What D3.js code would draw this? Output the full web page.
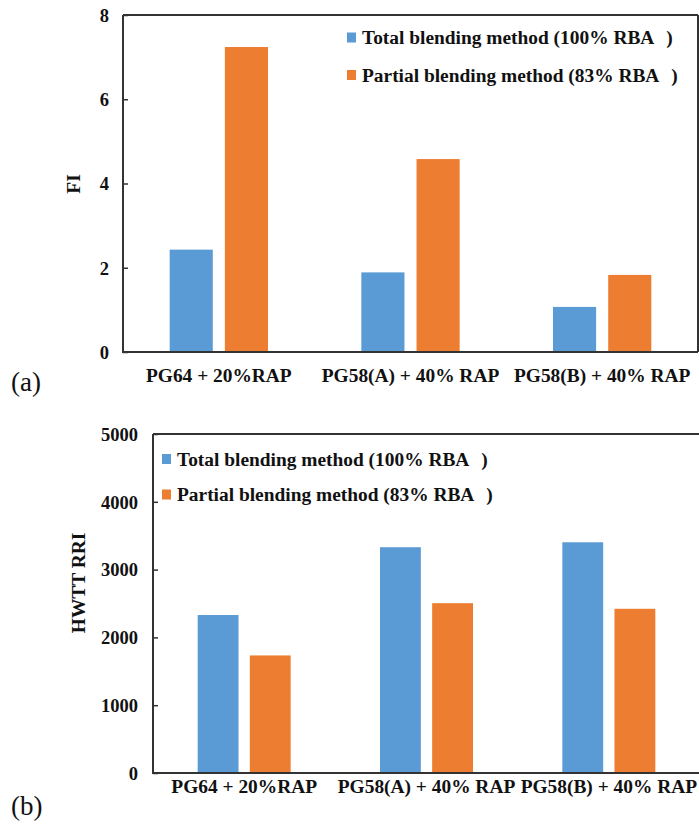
<!DOCTYPE html>
<html>
<head>
<meta charset="utf-8">
<script src="https://cdn.jsdelivr.net/npm/d3@7"></script>
<style>
  html, body { margin: 0; padding: 0; background: #fff; }
  svg { display: block; }
</style>
</head>
<body>
<svg id="fig" width="699" height="825"></svg>
<script>
// Mixture categories shared by both panels
const categories = ["PG64 + 20%RAP", "PG58(A) + 40% RAP", "PG58(B) + 40% RAP"];
const seriesNames = ["Total blending method (100% RBA", "Partial blending method (83% RBA"];
const seriesColors = ["#5B9BD5", "#ED7D31"];

// Panel (a): FI
const fiTotal = [2.43, 1.89, 1.07];
const fiPartial = [7.24, 4.58, 1.83];
const fiTicks = [0, 2, 4, 6, 8];

// Panel (b): HWTT RRI
const rriTotal = [2330, 3330, 3403];
const rriPartial = [1734, 2505, 2422];
const rriTicks = [0, 1000, 2000, 3000, 4000, 5000];

const SERIF = '"Liberation Serif", "Times New Roman", serif';
const svg = d3.select("#fig");

function serif(sel, size, bold) {
  return sel.style("font-family", SERIF)
    .style("font-size", size + "px")
    .style("font-weight", bold ? "bold" : "normal")
    .style("fill", "#111");
}

function panel(cfg) {
  const g = svg.append("g");
  const x = d3.scaleBand().domain(categories).range([cfg.left, cfg.right]).paddingInner(0).paddingOuter(0);
  const y = d3.scaleLinear().domain([0, cfg.max]).range([cfg.bottom, cfg.top]);
  const bw = x.bandwidth();
  const barW = bw * cfg.barFrac;
  const gap = bw * cfg.gapFrac;

  const rows = categories.map((c, i) => ({ c, vals: [cfg.total[i], cfg.partial[i]] }));
  const grp = g.selectAll("g.cat").data(rows).join("g").attr("class", "cat");
  grp.selectAll("rect").data(d => d.vals.map((v, k) => ({ c: d.c, v, k })))
    .join("rect")
    .attr("x", d => x(d.c) + bw / 2 + (d.k === 0 ? -gap / 2 - barW : gap / 2))
    .attr("width", barW)
    .attr("y", d => y(d.v))
    .attr("height", d => y(0) - y(d.v))
    .attr("fill", d => seriesColors[d.k]);

  // y axis with inward ticks
  const yAxis = d3.axisLeft(y).tickValues(cfg.ticks).tickSize(-5).tickPadding(15).tickFormat(d3.format("d"));
  const ya = g.append("g").attr("transform", `translate(${cfg.left},0)`).call(yAxis);
  ya.select(".domain").remove();
  ya.selectAll(".tick line").attr("stroke", "#333").attr("stroke-width", 1.5);
  serif(ya.selectAll(".tick text"), 18.5, true)
    .attr("x", cfg.tickX - cfg.left).attr("dy", "0.34em");

  // x axis labels
  const xAxis = d3.axisBottom(x).tickSize(0).tickPadding(0);
  const xa = g.append("g").attr("transform", `translate(0,${cfg.bottom})`).call(xAxis);
  xa.select(".domain").remove();
  serif(xa.selectAll(".tick text"), 19.4, true)
    .attr("y", cfg.catBase - cfg.bottom).attr("dy", 0);

  // frame
  const fr = d3.path();
  fr.moveTo(cfg.left, cfg.top); fr.lineTo(cfg.left, cfg.bottom); fr.lineTo(cfg.right, cfg.bottom);
  fr.moveTo(cfg.left, cfg.top); fr.lineTo(cfg.right, cfg.top);
  if (cfg.rightEdge) { fr.moveTo(cfg.right, cfg.top); fr.lineTo(cfg.right, cfg.bottom); }
  g.append("path").attr("d", fr.toString()).attr("fill", "none").attr("stroke", "#333").attr("stroke-width", 2);

  // y title
  serif(g.append("text"), 19.4, true)
    .attr("transform", `translate(${cfg.titleX},${cfg.titleY}) rotate(-90)`)
    .attr("text-anchor", "middle")
    .attr("dy", "0.35em")
    .text(cfg.title);

  // legend
  seriesNames.forEach((name, k) => {
    const cy = cfg.legY[k];
    g.append("rect").attr("x", cfg.legX).attr("y", cy - 5).attr("width", 9).attr("height", 10)
      .attr("fill", seriesColors[k]);
    const t = serif(g.append("text"), 19.4, true)
      .attr("x", cfg.legX + 15).attr("y", cy).attr("dy", "0.35em")
      .text(name);
    t.append("tspan").attr("dx", 12).text(")");
  });

  // panel tag
  serif(g.append("text"), 27, false).attr("x", 11).attr("y", cfg.tagY).text(cfg.tag);
}

panel({
  left: 123, right: 698, top: 15, bottom: 352, max: 8, ticks: fiTicks,
  total: fiTotal, partial: fiPartial, barFrac: 0.225, gapFrac: 0.063,
  tickX: 109, catBase: 382, rightEdge: true,
  title: "FI", titleX: 73, titleY: 184,
  legX: 347, legY: [37.5, 75], tag: "(a)", tagY: 391
});

panel({
  left: 153, right: 700, top: 434, bottom: 773, max: 5000, ticks: rriTicks,
  total: rriTotal, partial: rriPartial, barFrac: 0.224, gapFrac: 0.062,
  tickX: 138, catBase: 793, rightEdge: false,
  title: "HWTT RRI", titleX: 78, titleY: 583,
  legX: 162, legY: [459, 494.5], tag: "(b)", tagY: 815
});
</script>
</body>
</html>
